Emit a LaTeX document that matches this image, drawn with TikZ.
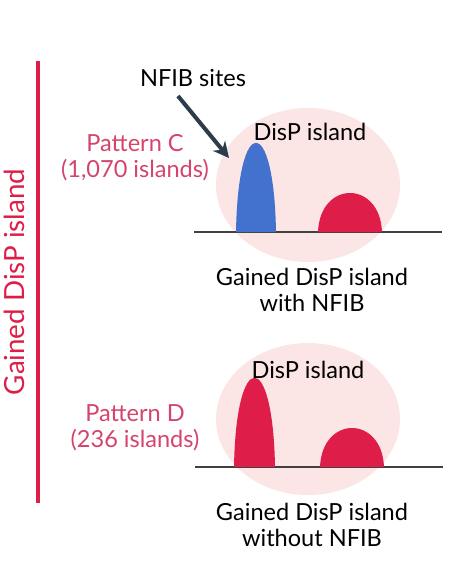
\documentclass[tikz,border=0pt]{standalone}
\usepackage{fontspec}
\setmainfont{Lato}
\usetikzlibrary{arrows.meta}
\definecolor{crim}{RGB}{222,30,72}
\definecolor{patc}{RGB}{212,68,108}
\definecolor{pinkbg}{RGB}{252,229,229}
\definecolor{peakblue}{RGB}{66,114,206}
\definecolor{arrowgray}{RGB}{45,60,75}
\begin{document}
\begin{tikzpicture}[x=0.02cm, y=-0.02cm,
	every node/.style = {font=\fontsize{13.4}{14.8}\selectfont, align=center, inner sep=0pt},
	pattern/.style = {text=patc},
	caption/.style = {text=black},
	baseline/.style = {draw=black!75, line width=0.7pt}]
	\useasboundingbox (0,0) rectangle (460,564);
	% side bar and title
	\draw[crim, line width=2.4pt] (38,61) -- (38,503);
	\node[rotate=90, text=crim, font=\fontsize{15.8}{18}\selectfont] (title) at (14,282) {Gained DisP island};
	% pattern C
	\fill[pinkbg] (308,185) ellipse [x radius=92, y radius=77];
	\draw[baseline] (194,232) -- (442,232);
	\fill[peakblue] (236,232) .. controls (238,113) and (274,113) .. (276,232) -- cycle;
	\fill[crim] (318,232) .. controls (320,180) and (380,180) .. (382,232) -- cycle;
	\node (islandC) at (310,132) {DisP island};
	\node (sites) at (193,78) {NFIB sites};
	\coordinate (tipC) at (229,158);
	\draw[arrowgray, line width=2.3pt, -{Stealth[length=9pt, width=9pt]}] (178,96) -- (tipC);
	\node[pattern] (patC) at (135,158) {Pattern C\\(1,070 islands)};
	\node[caption] (capC) at (312,290) {Gained DisP island\\with NFIB};
	% pattern D
	\fill[pinkbg] (308,419) ellipse [x radius=92, y radius=76];
	\draw[baseline] (195,467) -- (443,467);
	\fill[crim] (234,467) .. controls (236,348) and (273,348) .. (275,467) -- cycle;
	\fill[crim] (320,467) .. controls (322,415) and (382,415) .. (384,467) -- cycle;
	\node (islandD) at (308,370) {DisP island};
	\node[pattern] (patD) at (135,428) {Pattern D\\(236 islands)};
	\node[caption] (capD) at (312,525) {Gained DisP island\\without NFIB};
\end{tikzpicture}
\end{document}
